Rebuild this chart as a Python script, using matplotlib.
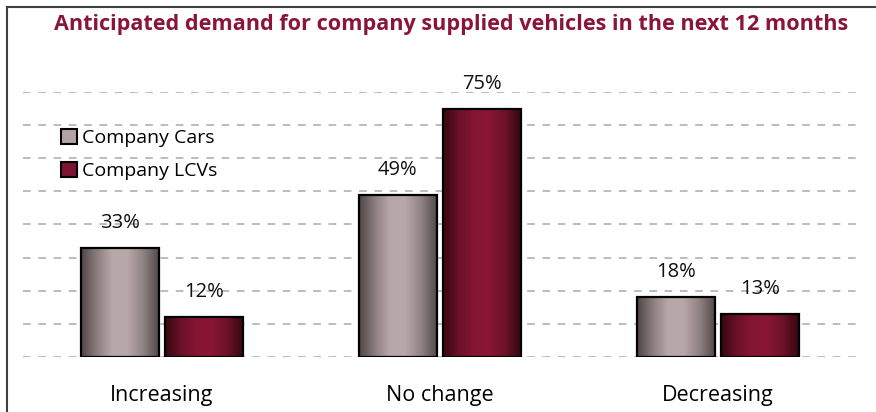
import numpy as np
import matplotlib.pyplot as plt
from matplotlib.colors import LinearSegmentedColormap
from matplotlib.patches import Patch
from matplotlib.lines import Line2D

categories = ["Increasing", "No change", "Decreasing"]
series_names = ["Company Cars", "Company LCVs"]
cars = [33, 49, 18]
lcvs = [12, 75, 13]

title_color = "#8b1538"
font = "Open Sans"

# horizontal shading for each series: dark edges, light centre
cars_cmap = LinearSegmentedColormap.from_list(
    "cars", ["#4f4546", "#8a7c7d", "#b9a8a9", "#b8a7a8", "#8f8283", "#544a4b"])
lcvs_cmap = LinearSegmentedColormap.from_list(
    "lcvs", ["#35080f", "#6a1128", "#861533", "#881634", "#6c1229", "#35080f"])

fig = plt.figure(figsize=(8.76, 4.12), dpi=100)
ax = fig.add_axes([23 / 876, 55 / 412, 834 / 876, 265 / 412])

x = np.arange(len(categories))
width = 0.28
gap = 0.025
grad = np.linspace(0, 1, 256).reshape(1, -1)

for vals, offs, cmap in [(cars, -(width + gap) / 2, cars_cmap),
                         (lcvs, (width + gap) / 2, lcvs_cmap)]:
    bars = ax.bar(x + offs, vals, width, facecolor="none", edgecolor="black",
                  linewidth=1.6, zorder=3)
    for b, v in zip(bars, vals):
        x0 = b.get_x()
        im = ax.imshow(grad, cmap=cmap, aspect="auto", zorder=2,
                       extent=(x0, x0 + b.get_width(), 0, v))
        im.set_clip_path(b)
        ax.annotate(f"{v}%", (b.get_x() + b.get_width() / 2, v),
                    xytext=(0, 18), textcoords="offset points",
                    ha="center", va="center", fontsize=14.5, family=font,
                    color="#111111")

ax.set_xlim(-0.5, 2.5)
ax.set_ylim(0, 80)
ax.set_yticks(range(0, 81, 10))
ax.yaxis.grid(True, color="#a9a9a9", linestyle=(0, (5, 5)), linewidth=1.1)
ax.set_axisbelow(True)
ax.tick_params(left=False, labelleft=False, bottom=False, pad=17)
ax.set_xticks(x)
ax.set_xticklabels(categories, fontsize=15.5, family=font)
for s in ax.spines.values():
    s.set_visible(False)

handles = [Patch(facecolor="#b4a3a4", edgecolor="black", linewidth=1.5),
           Patch(facecolor="#7f1430", edgecolor="black", linewidth=1.5)]
ax.legend(handles, series_names, loc="upper left",
          bbox_to_anchor=(61 / 876, 1 - 129 / 412), bbox_transform=fig.transFigure,
          borderaxespad=0, borderpad=0, frameon=False,
          prop={"family": font, "size": 14},
          handlelength=0.8, handleheight=0.8, handletextpad=0.3,
          labelspacing=0.75)

fig.text(0.515, 0.94, "Anticipated demand for company supplied vehicles in the next 12 months",
         ha="center", va="center", fontsize=15.6, fontweight="bold",
         family=font, color=title_color)

# outer frame along the left and top edges
fig.add_artist(Line2D([7 / 876, 7 / 876], [0, 1 - 7 / 412], transform=fig.transFigure,
                      color="#404040", linewidth=1.5))
fig.add_artist(Line2D([7 / 876, 1], [1 - 7 / 412, 1 - 7 / 412], transform=fig.transFigure,
                      color="#404040", linewidth=1.5))

fig.savefig("out.png", dpi=100)
